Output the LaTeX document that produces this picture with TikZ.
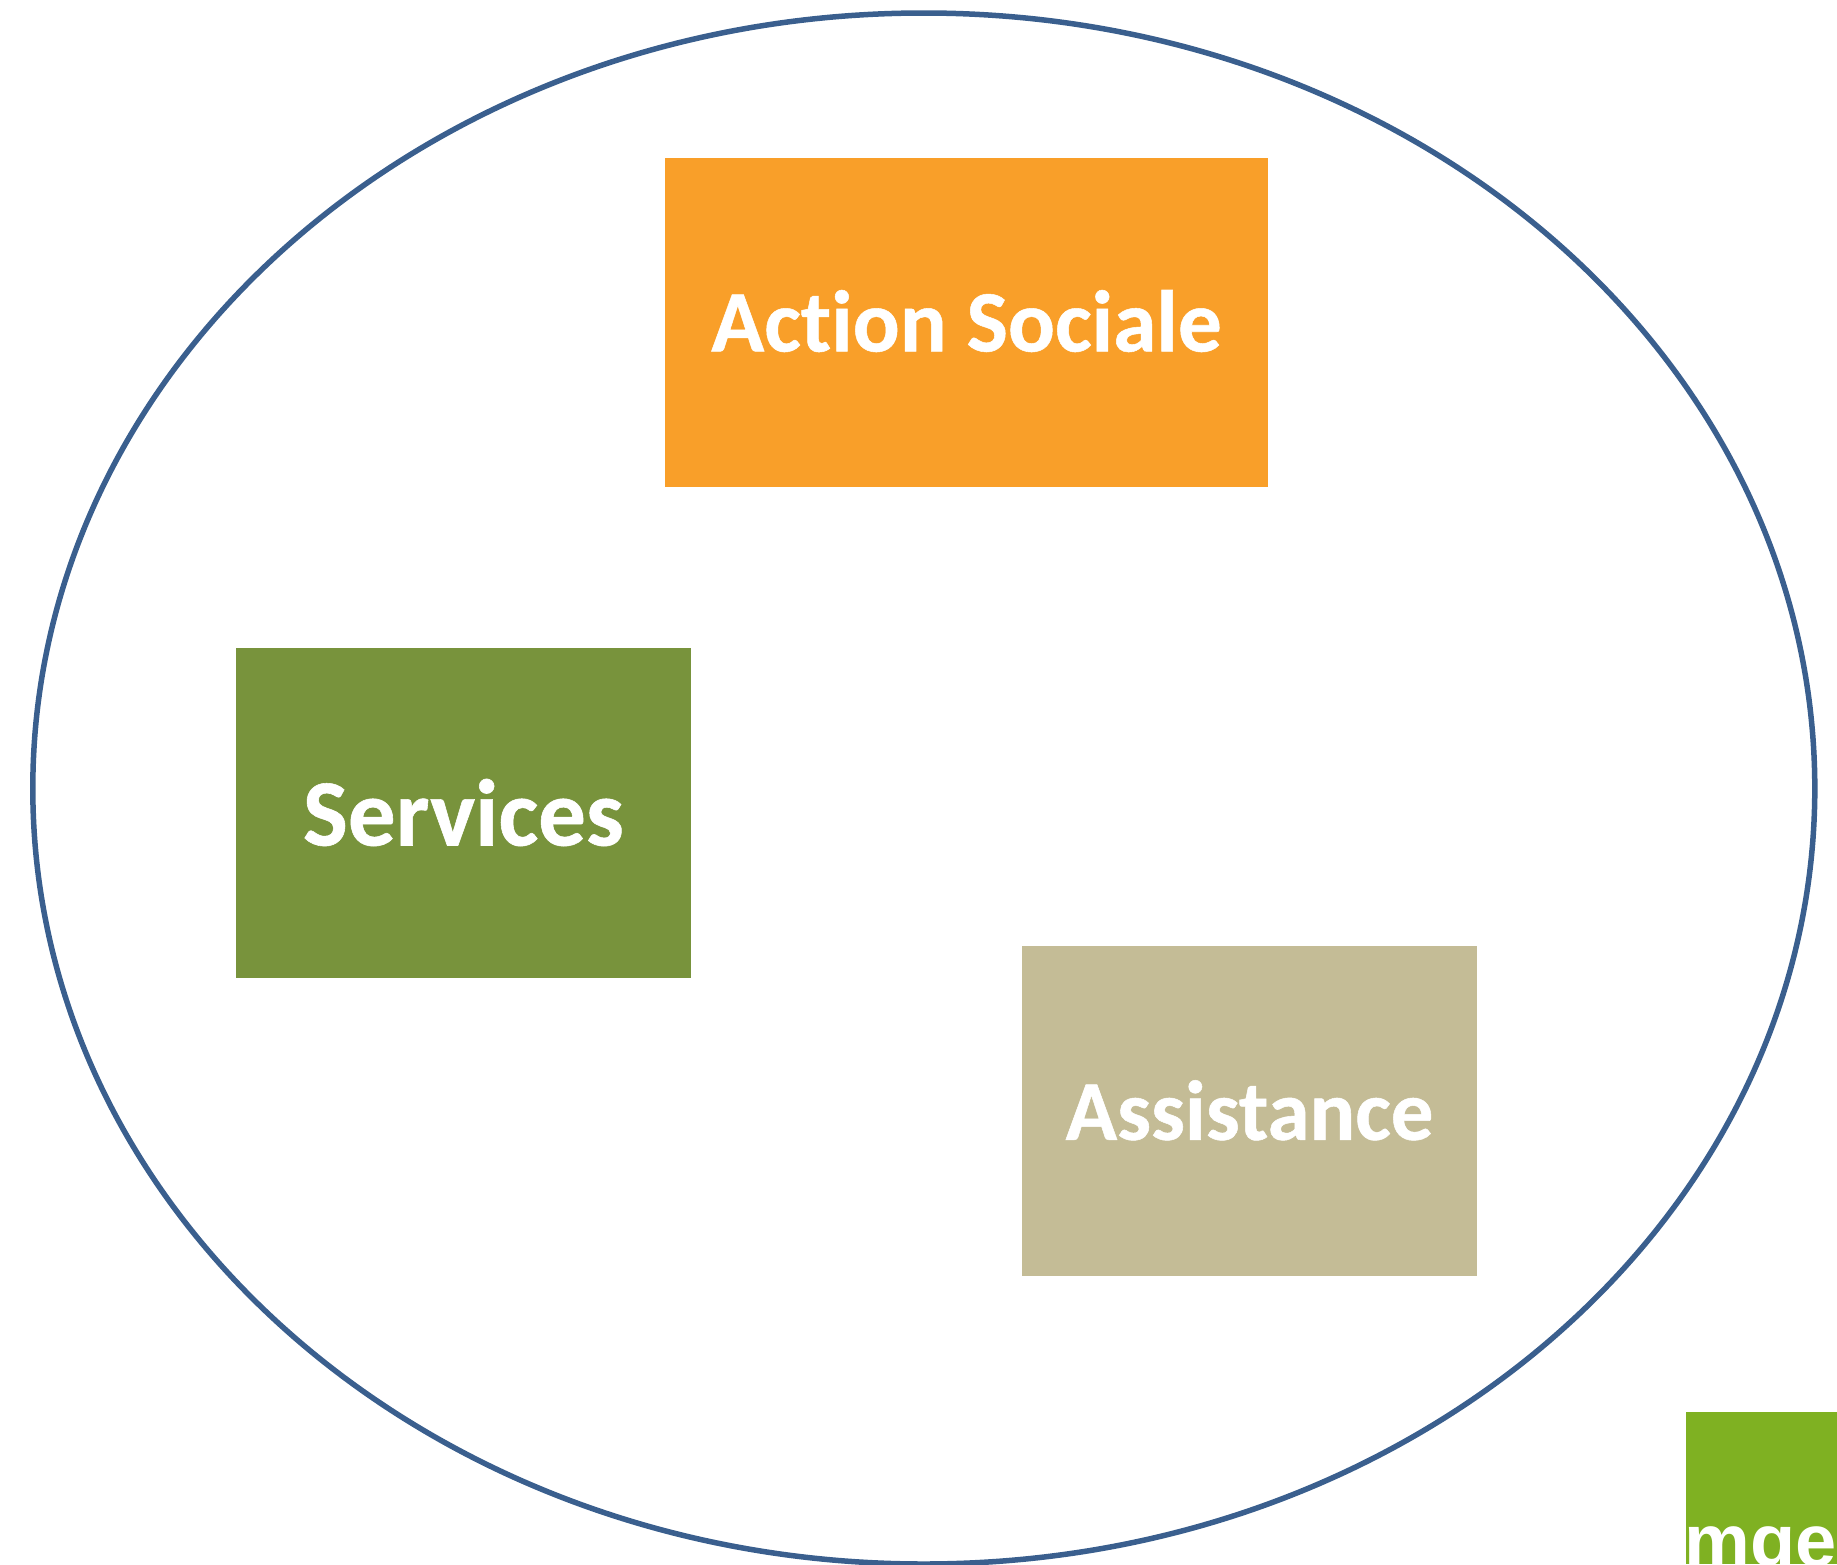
\documentclass[tikz,border=0pt]{standalone}
\usepackage{fontspec}
\setmainfont[Ligatures=NoCommon,BoldFeatures={FakeBold=0.6}]{Carlito}
\newfontfamily\logofont{Liberation Sans}
\definecolor{ringblue}{HTML}{3A5F8E}
\definecolor{orangebox}{HTML}{F99F29}
\definecolor{greenbox}{HTML}{78933C}
\definecolor{tanbox}{HTML}{C4BC96}
\definecolor{logogreen}{HTML}{7FB122}
\usetikzlibrary{shapes.geometric}
\tikzset{
  ring/.style={draw=ringblue,line width=5.5pt,ellipse},
  panel/.style={rectangle,inner sep=0pt,outer sep=0pt,text=white,align=center,
    text height=57.4pt,text depth=0pt},
}
\begin{document}
\begin{tikzpicture}[x=1pt,y=-1pt]
\useasboundingbox (0,0) rectangle (1837,1564);
\clip (0,0) rectangle (1837,1564);
\node[ring,minimum width=1782pt,minimum height=1551pt,inner sep=0pt] (outer) at (923.8,788.5) {};
\node[panel,fill=orangebox,minimum width=603pt,minimum height=329.5pt,font=\fontsize{87.5}{87.5}\selectfont\bfseries] (action) at (966.5,322.7) {Action Sociale};
\node[panel,fill=greenbox,minimum width=455pt,minimum height=330pt,text height=65pt,font=\fontsize{95}{95}\selectfont\bfseries] (services) at (463.5,813) {Services};
\node[panel,fill=tanbox,minimum width=455.8pt,minimum height=330.5pt,text height=58pt,font=\fontsize{85}{85}\selectfont\bfseries] (assistance) at (1249.5,1110.8) {Assistance};
\fill[logogreen] (1686,1412) rectangle (1837,1564);
\node[anchor=base west,inner sep=0pt,text=white,font=\logofont\fontsize{74}{74}\selectfont\bfseries] (logo) at (1684,1566) {mge};
\end{tikzpicture}
\end{document}
